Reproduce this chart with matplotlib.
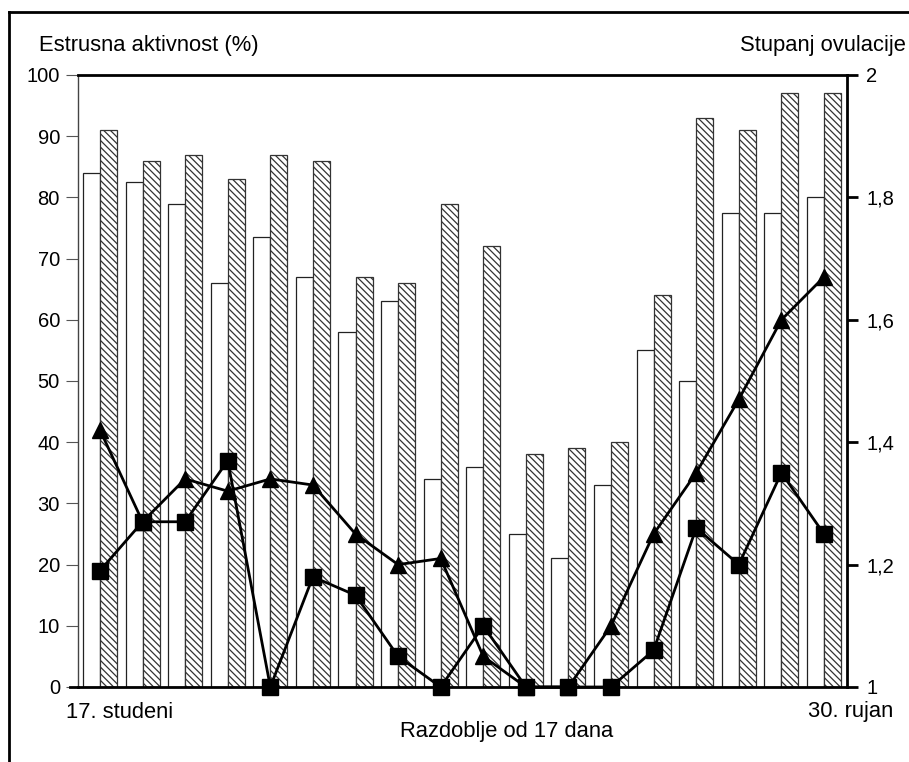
import matplotlib.pyplot as plt
import matplotlib.lines as mlines
import numpy as np

plt.rcParams['font.family'] = ['Liberation Sans', 'DejaVu Sans']
plt.rcParams['hatch.linewidth'] = 0.9
plt.rcParams['hatch.color'] = '#333333'

# estrus activity (%) - open bars and hatched bars
white_bars = [84, 82.5, 79, 66, 73.5, 67, 58, 63, 34, 36, 25, 21, 33, 55, 50, 77.5, 77.5, 80]
hatched_bars = [91, 86, 87, 83, 87, 86, 67, 66, 79, 72, 38, 39, 40, 64, 93, 91, 97, 97]

# ovulation degree (right axis)
triangles = [1.42, 1.27, 1.34, 1.32, 1.34, 1.33, 1.25, 1.20, 1.21, 1.05, 1.0, 1.0, 1.10, 1.25, 1.35, 1.47, 1.60, 1.67]
squares = [1.19, 1.27, 1.27, 1.37, 1.0, 1.18, 1.15, 1.05, 1.0, 1.10, 1.0, 1.0, 1.0, 1.06, 1.26, 1.20, 1.35, 1.25]

left_ticks = [0, 10, 20, 30, 40, 50, 60, 70, 80, 90, 100]
right_ticks = [1, 1.2, 1.4, 1.6, 1.8, 2]
right_labels = ['1', '1,2', '1,4', '1,6', '1,8', '2']

x = np.arange(len(white_bars))
w = 0.40

fig = plt.figure(figsize=(9.09, 7.62), dpi=100)
ax = fig.add_axes([78 / 909, 1 - 687 / 762, (847 - 78) / 909, (687 - 75) / 762])

ax.bar(x - w / 2, white_bars, w, color='white', edgecolor='#222222', linewidth=0.9)
ax.bar(x + w / 2, hatched_bars, w, color='white', edgecolor='#333333', linewidth=0.9, hatch='\\\\\\\\\\')
ax.set_xlim(-0.516, 17.54)
ax.set_ylim(0, 100)
ax.set_yticks(left_ticks)
ax.set_xticks([])
ax.tick_params(axis='y', direction='out', length=9, width=0.8, color='#555555', pad=4, labelsize=14.5)

ax.spines['left'].set_linewidth(1.0)
ax.spines['left'].set_color('#444444')
ax.spines['top'].set_linewidth(2)
ax.spines['bottom'].set_linewidth(2)
ax.spines['right'].set_visible(False)

ax2 = ax.twinx()
ax2.plot(x, triangles, '-', color='black', lw=2, marker='^', markersize=11, clip_on=False, zorder=5)
ax2.plot(x, squares, '-', color='black', lw=2, marker='s', markersize=11, clip_on=False, zorder=6)
ax2.set_ylim(1, 2)
ax2.set_yticks(right_ticks)
ax2.set_yticklabels(right_labels)
ax2.tick_params(axis='y', direction='out', length=8, width=2, pad=6, labelsize=14.5)
ax2.spines['right'].set_linewidth(2)
for s in ['left', 'top', 'bottom']:
    ax2.spines[s].set_visible(False)

# bottom line continues left past the axis as the zero tick
fig.add_artist(mlines.Line2D([70 / 909, 78 / 909], [1 - 687 / 762] * 2, color='black', lw=2))

fig.text(39 / 909, 1 - 45 / 762, 'Estrusna aktivnost (%)', fontsize=15.8, va='center', ha='left')
fig.text(906 / 909, 1 - 45 / 762, 'Stupanj ovulacije', fontsize=15.8, va='center', ha='right')
fig.text(66 / 909, 1 - 712 / 762, '17. studeni', fontsize=15.8, va='center', ha='left')
fig.text(893 / 909, 1 - 712 / 762, '30. rujan', fontsize=15.8, va='center', ha='right')
fig.text(507 / 909, 1 - 732 / 762, 'Razdoblje od 17 dana', fontsize=15.8, va='center', ha='center')

# outer frame (top and left edges)
fig.add_artist(mlines.Line2D([9 / 909, 9 / 909], [0, 1 - 12 / 762], color='black', lw=2))
fig.add_artist(mlines.Line2D([9 / 909, 1], [1 - 12 / 762] * 2, color='black', lw=2))

fig.savefig('out.png', dpi=100)
